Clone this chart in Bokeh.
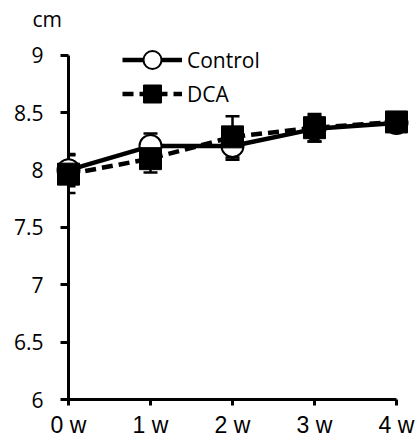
from bokeh.plotting import figure
from bokeh.models import (ColumnDataSource, Range1d, FixedTicker, Whisker, TeeHead,
                          Legend, LegendItem, Title)
from bokeh.embed import file_html
from bokeh.resources import INLINE

# ---- data ----
week_labels = ["0 w", "1 w", "2 w", "3 w", "4 w"]
weeks = [0, 1, 2, 3, 4]
ctrl_mean = [8.00, 8.21, 8.21, 8.36, 8.41]
ctrl_err = [0.14, 0.11, 0.12, 0.11, 0.07]
dca_mean = [7.965, 8.10, 8.29, 8.37, 8.42]
dca_err = [0.165, 0.12, 0.18, 0.12, 0.07]
y_ticks = [6, 6.5, 7, 7.5, 8, 8.5, 9]
y_labels = ["6", "6.5", "7", "7.5", "8", "8.5", "9"]
unit_label = "cm"
series_names = ["Control", "DCA"]

src_c = ColumnDataSource(dict(x=weeks, y=ctrl_mean,
                              upper=[m + e for m, e in zip(ctrl_mean, ctrl_err)],
                              lower=[m - e for m, e in zip(ctrl_mean, ctrl_err)]))
src_d = ColumnDataSource(dict(x=weeks, y=dca_mean,
                              upper=[m + e for m, e in zip(dca_mean, dca_err)],
                              lower=[m - e for m, e in zip(dca_mean, dca_err)]))

p = figure(width=418, height=440, x_range=Range1d(0, 4), y_range=Range1d(6, 9.2),
           output_backend="svg", toolbar_location=None,
           min_border_left=68, min_border_right=22, min_border_top=32, min_border_bottom=40)
p.outline_line_color = None
p.xgrid.visible = False
p.ygrid.visible = False
p.background_fill_color = "white"
p.border_fill_color = "white"

# "cm" unit label as title
p.title = Title(text=unit_label, align="left", offset=-36, standoff=0,
                text_font="Open Sans", text_font_size="21px", text_font_style="normal",
                text_color="black")

# x axis
xa = p.xaxis[0]
xa.ticker = FixedTicker(ticks=weeks)
xa.major_label_overrides = {w: l for w, l in zip(weeks, week_labels)}
xa.axis_line_width = 3
xa.major_tick_line_width = 3
xa.major_tick_out = 6
xa.major_tick_in = 0
xa.minor_tick_line_color = None
xa.major_label_text_font = "Liberation Sans"
xa.major_label_text_font_size = "23px"
xa.major_label_text_color = "black"
xa.major_label_standoff = 6
xa.axis_line_color = "black"

# y axis
ya = p.yaxis[0]
ya.ticker = FixedTicker(ticks=y_ticks)
ya.bounds = (6, 9)
ya.major_label_overrides = {(int(t) if float(t).is_integer() else t): l for t, l in zip(y_ticks, y_labels)}
ya.axis_line_width = 3
ya.major_tick_line_width = 3
ya.major_tick_out = 8
ya.major_tick_in = 0
ya.minor_tick_line_color = None
ya.major_label_text_font = "Open Sans"
ya.major_label_text_font_size = "21px"
ya.major_label_text_color = "black"
ya.major_label_standoff = 17
ya.axis_line_color = "black"

# error bars
for src in (src_c, src_d):
    w = Whisker(base="x", upper="upper", lower="lower", source=src, dimension="height",
                line_width=2.5, line_color="black",
                upper_head=TeeHead(size=14, line_width=2.5, line_color="black"),
                lower_head=TeeHead(size=14, line_width=2.5, line_color="black"))
    p.add_layout(w)

c_line = p.line("x", "y", source=src_c, line_width=4.5, line_color="black", level="overlay")
c_sc = p.scatter("x", "y", source=src_c, marker="circle", size=22, fill_color="white",
                 line_color="black", line_width=2, level="overlay")
d_line = p.line("x", "y", source=src_d, line_width=4.5, line_color="black",
                line_dash="11 6", level="overlay")
d_sc = p.scatter("x", "y", source=src_d, marker="square", size=22, fill_color="black",
                 line_color="black", line_width=1, level="overlay")

common = dict(glyph_width=60, glyph_height=45, padding=0, margin=0, label_standoff=5,
              border_line_color=None, background_fill_alpha=0,
              label_text_font="Open Sans", label_text_font_size="21px",
              label_text_color="black")
legend_c = Legend(items=[LegendItem(label=series_names[0], renderers=[c_line, c_sc])],
                  location=(54, 317), **common)
legend_d = Legend(items=[LegendItem(label=series_names[1], renderers=[d_line, d_sc])],
                  location=(54, 283), **common)
p.add_layout(legend_c)
p.add_layout(legend_d)

open("out.html", "w").write(file_html(p, INLINE))
